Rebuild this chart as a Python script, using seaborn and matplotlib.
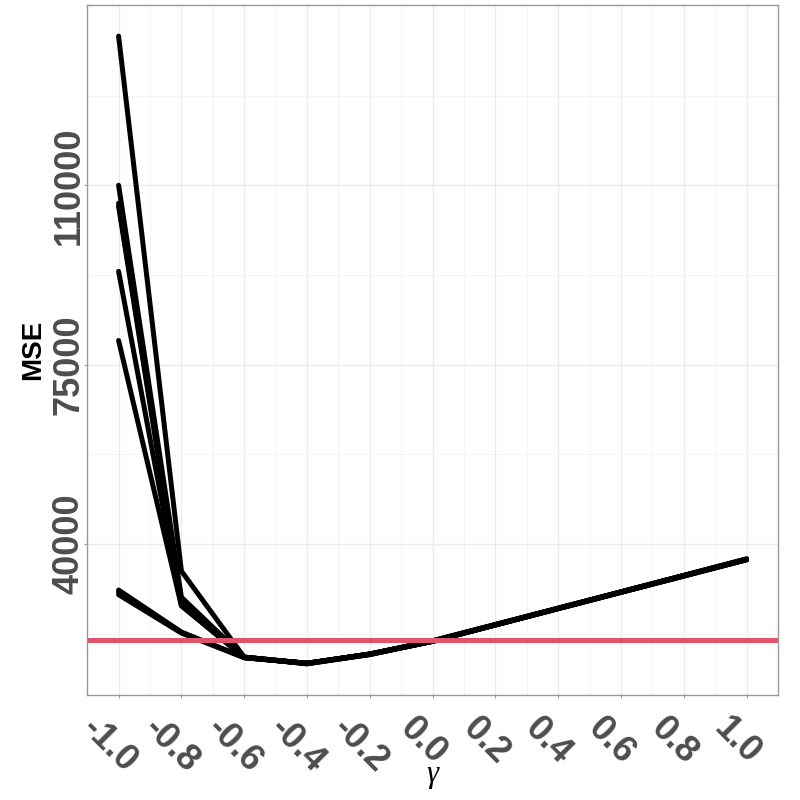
import numpy as np
import pandas as pd
import seaborn as sns
import matplotlib.pyplot as plt
import matplotlib.transforms as mtrans
from matplotlib.ticker import MultipleLocator, FixedLocator

# gamma grid and MSE per run
gamma = [-1.0, -0.8, -0.6, -0.4, -0.2, 0.0, 1.0]
mse_run1 = [139100, 34700, 17900, 16700, 18500, 21000, 37000]
mse_run2 = [110000, 29600, 17900, 16700, 18500, 21000, 37000]
mse_run3 = [106500, 29000, 17800, 16700, 18400, 21000, 36900]
mse_run4 = [105900, 28500, 17900, 16600, 18500, 21100, 37000]
mse_run5 = [93200, 28000, 17800, 16700, 18500, 21000, 37100]
mse_run6 = [79700, 27900, 17900, 16700, 18500, 21000, 37000]
mse_run7 = [31000, 22800, 17800, 16700, 18500, 21000, 37000]
mse_run8 = [30600, 22700, 17900, 16600, 18400, 21000, 36900]
mse_run9 = [30100, 22600, 17800, 16700, 18500, 21100, 37000]
baseline_mse = 21230

runs = [mse_run1, mse_run2, mse_run3, mse_run4, mse_run5,
        mse_run6, mse_run7, mse_run8, mse_run9]
df = pd.DataFrame({
    "gamma": gamma * len(runs),
    "MSE": [v for r in runs for v in r],
    "run": [i for i, r in enumerate(runs) for _ in r],
})

sns.set_style("white")
plt.rcParams['font.family'] = ['Liberation Sans', 'DejaVu Sans']

fig = plt.figure(figsize=(8, 8), dpi=100)
ax = fig.add_axes([0.109, 0.131, 0.8635, 0.863])

sns.lineplot(data=df, x="gamma", y="MSE", units="run", estimator=None,
             color="black", linewidth=3.6, ax=ax, legend=False)
ax.axhline(baseline_mse, color="#DF536B", linewidth=3.6)

# ggplot-like 5% expansion
lo, hi = df["MSE"].min(), df["MSE"].max()
pad = (hi - lo) * 0.05
ax.set_ylim(lo - pad, hi + pad)
ax.set_xlim(-1.1, 1.1)

ax.xaxis.set_major_locator(MultipleLocator(0.2))
ax.xaxis.set_minor_locator(MultipleLocator(0.1))
ax.yaxis.set_major_locator(FixedLocator([40000, 75000, 110000]))
ax.yaxis.set_minor_locator(FixedLocator([22500, 57500, 92500, 127500]))
ax.grid(which="major", color="#EBEBEB", linewidth=1.0)
ax.grid(which="minor", color="#F2F2F2", linewidth=0.6)
ax.set_axisbelow(True)

for s in ax.spines.values():
    s.set_color("#999999")
    s.set_linewidth(1.0)

ax.tick_params(which="major", length=2.2, color="#999999",
               labelsize=26, labelcolor="#4D4D4D", bottom=True, left=True)
ax.tick_params(axis="y", pad=-2)
ax.tick_params(axis="x", pad=12)
ax.tick_params(which="minor", length=0)
ax.set_xticklabels([f"{t:.1f}" for t in ax.get_xticks()])
shift = mtrans.ScaledTranslation(-7 / 72, 3 / 72, fig.dpi_scale_trans)
for lab in ax.get_xticklabels():
    lab.set_rotation(-45)
    lab.set_ha("center")
    lab.set_va("top")
    lab.set_fontweight("bold")
    lab.set_transform(lab.get_transform() + shift)
for lab in ax.get_yticklabels():
    lab.set_rotation(90)
    lab.set_va("center")
    lab.set_fontweight("bold")

ax.set_xlabel("γ", fontfamily="Liberation Serif", fontstyle="italic",
              fontsize=22, labelpad=-14, color="black")
ax.set_ylabel("MSE", fontsize=20, fontweight="bold", labelpad=4, color="black")

fig.savefig("out.png", dpi=100)
